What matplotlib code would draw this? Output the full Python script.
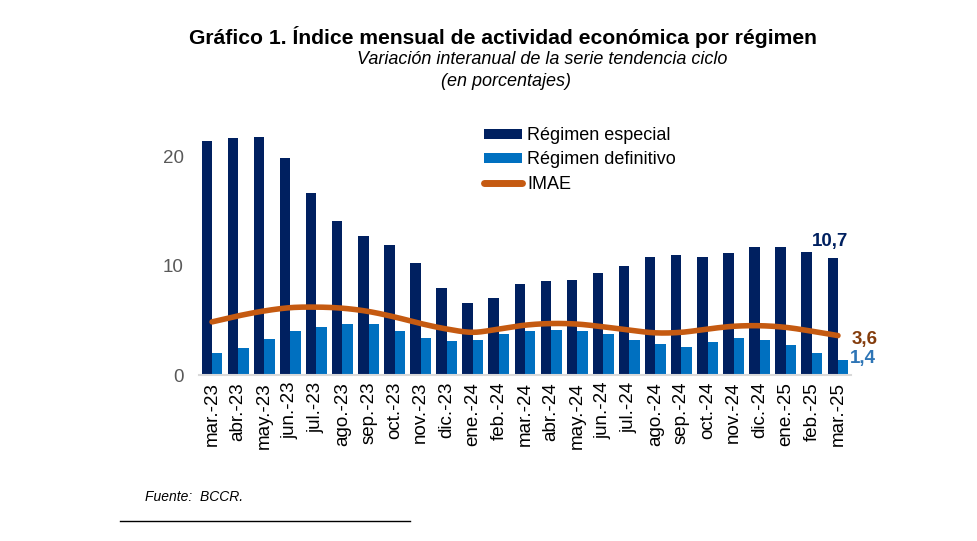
import numpy as np
import matplotlib
matplotlib.use("Agg")
import matplotlib.pyplot as plt
from matplotlib.patches import Patch
from matplotlib.lines import Line2D

plt.rcParams['font.family'] = ['Liberation Sans', 'DejaVu Sans']

categories = ["mar.-23", "abr.-23", "may.-23", "jun.-23", "jul.-23", "ago.-23", "sep.-23",
              "oct.-23", "nov.-23", "dic.-23", "ene.-24", "feb.-24", "mar.-24", "abr.-24",
              "may.-24", "jun.-24", "jul.-24", "ago.-24", "sep.-24", "oct.-24", "nov.-24",
              "dic.-24", "ene.-25", "feb.-25", "mar.-25"]
especial = [21.4, 21.6, 21.7, 19.8, 16.6, 14.1, 12.7, 11.9, 10.2, 7.9, 6.6, 7.0, 8.3, 8.6,
            8.7, 9.3, 10.0, 10.8, 11.0, 10.8, 11.1, 11.7, 11.7, 11.2, 10.7]
definitivo = [2.0, 2.5, 3.3, 4.0, 4.4, 4.7, 4.7, 4.0, 3.4, 3.1, 3.2, 3.7, 4.0, 4.1,
              4.0, 3.7, 3.2, 2.8, 2.6, 3.0, 3.4, 3.2, 2.7, 2.0, 1.4]
imae = [4.85, 5.4, 5.85, 6.15, 6.2, 6.1, 5.8, 5.3, 4.7, 4.2, 3.9, 4.2, 4.55, 4.7,
        4.65, 4.4, 4.1, 3.85, 3.9, 4.2, 4.45, 4.5, 4.35, 4.0, 3.6]
yticks = [0, 10, 20]

navy = '#002060'
blue = '#0070C0'
orange = '#C55A11'

fig = plt.figure(figsize=(9.77, 5.41), dpi=100)
ax = fig.add_axes([199/977, 1-375/541, 652/977, 262.8/541])

x = np.arange(len(categories))
w = 0.4
ax.bar(x - w/2, especial, width=w, color=navy)
ax.bar(x + w/2, definitivo, width=w, color=blue)

# smooth rendering of the line (Catmull-Rom through the data points)
def smooth(xs, ys, n=20):
    xs = np.asarray(xs, float); ys = np.asarray(ys, float)
    px = np.concatenate([[2*xs[0]-xs[1]], xs, [2*xs[-1]-xs[-2]]])
    py = np.concatenate([[2*ys[0]-ys[1]], ys, [2*ys[-1]-ys[-2]]])
    ox, oy = [], []
    for i in range(1, len(px)-2):
        t = np.linspace(0, 1, n, endpoint=False)
        for p, o in ((px, ox), (py, oy)):
            p0, p1, p2, p3 = p[i-1], p[i], p[i+1], p[i+2]
            o.extend(0.5*((2*p1) + (-p0+p2)*t + (2*p0-5*p1+4*p2-p3)*t**2 + (-p0+3*p1-3*p2+p3)*t**3))
    ox.append(xs[-1]); oy.append(ys[-1])
    return np.array(ox), np.array(oy)

sx, sy = smooth(x, imae)
ax.plot(sx, sy, color=orange, lw=4, solid_capstyle='round')

ax.set_xlim(-0.5, len(categories)-0.5)
ax.set_ylim(0, 24)
ax.set_xticks(x)
ax.set_xticklabels(categories, rotation=90, fontsize=13.5, color='#000000')
ax.set_yticks(yticks)
ax.set_yticklabels([str(v) for v in yticks], fontsize=13.5, color='#595959')
ax.tick_params(axis='both', length=0)
ax.tick_params(axis='y', pad=11)
ax.tick_params(axis='x', pad=5)
for s in ['top', 'right', 'left']:
    ax.spines[s].set_visible(False)
ax.spines['bottom'].set_color('#D9D9D9')
ax.spines['bottom'].set_linewidth(1.5)

ax.annotate('10,7', (x[-1] - w/2, especial[-1]), xytext=(-2, 6), textcoords='offset points',
            ha='center', va='bottom', fontsize=13.5, fontweight='bold', color=navy)
ax.annotate('3,6', (x[-1], imae[-1]), xytext=(10, -3), textcoords='offset points',
            ha='left', va='center', fontsize=13.5, fontweight='bold', color='#843C0C')
ax.annotate('1,4', (x[-1] + w/2, definitivo[-1]), xytext=(5, 0.5), textcoords='offset points',
            ha='left', va='center', fontsize=13.5, fontweight='bold', color='#2E75B6')

handles = [Patch(facecolor=navy, label='Régimen especial'),
           Patch(facecolor=blue, label='Régimen definitivo'),
           Line2D([], [], color=orange, lw=5, solid_capstyle='round', label='IMAE')]
leg = fig.legend(handles=handles, loc='upper left', bbox_to_anchor=(468/977, 1-111/541),
                 frameon=False, fontsize=13, handlelength=2.1, handleheight=0.5,
                 handletextpad=0.28, labelspacing=0.4)

fig.text(503/977, 1-37/541, 'Gráfico 1. Índice mensual de actividad económica por régimen',
         ha='center', va='center', fontsize=15.2, fontweight='bold')
fig.text(542/977, 1-59/541, 'Variación interanual de la serie tendencia ciclo',
         ha='center', va='center', fontsize=13, style='italic')
fig.text(506/977, 1-81/541, '(en porcentajes)',
         ha='center', va='center', fontsize=13, style='italic')
fig.text(145/977, 1-497/541, 'Fuente:  BCCR.', ha='left', va='center', fontsize=10, style='italic')
fig.add_artist(Line2D([120/977, 410/977], [1-521/541, 1-521/541], color='black', lw=1,
                      transform=fig.transFigure))

fig.savefig('out.png', dpi=100)
